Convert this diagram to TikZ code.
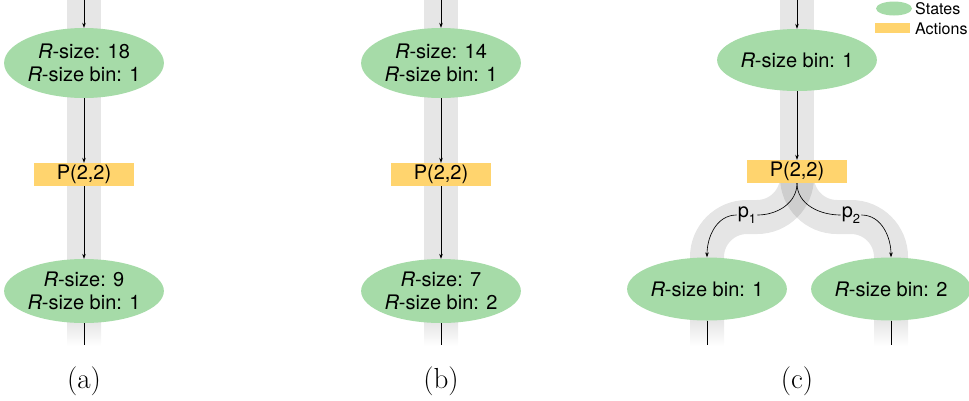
\documentclass[tikz,border=0pt]{standalone}
\usepackage{fontspec}
\newfontfamily\helv{TeX Gyre Heros}
\usetikzlibrary{arrows.meta,shapes.geometric}
\definecolor{stategreen}{RGB}{166,219,168}
\definecolor{actionorange}{RGB}{255,212,110}
\definecolor{bandgray}{RGB}{230,230,230}
\begin{document}
\begin{tikzpicture}[x=1pt,y=-1pt,
  state/.style={ellipse, fill=stategreen, minimum width=150pt, inner sep=0pt,
    align=center, font=\helv\fontsize{20}{23}\selectfont},
  action/.style={rectangle, fill=actionorange, minimum width=100pt,
    minimum height=23pt, inner sep=0pt, font=\helv\fontsize{20}{23}\selectfont},
  flow/.style={line width=0.65pt, -{Stealth[length=5pt,width=3.6pt]}},
  plainline/.style={line width=0.65pt},
  prob/.style={inner sep=1pt, font=\helv\fontsize{20}{23}\selectfont},
  caption/.style={font=\fontsize{29}{31}\selectfont},
  legendtext/.style={anchor=west, inner sep=0pt, font=\helv\fontsize{16}{18}\selectfont}]
\useasboundingbox (0,0) rectangle (969,400);

% straight vertical bands for panels (a) and (b)
\foreach \cx in {84,441}{
  \fill[bandgray] (\cx-17,0) rectangle (\cx+17,323);
  \shade[top color=bandgray,bottom color=white] (\cx-17,322.5) rectangle (\cx+17,346);
}

% panel (c): trunk and two translucent branches
\fill[bandgray] (780,0) rectangle (814,172);
\draw[line width=34pt, draw=black, draw opacity=0.1, rounded corners=40pt]
  (797,172) -- (797,217) -- (707,217) -- (707,305);
\draw[line width=34pt, draw=black, draw opacity=0.1, rounded corners=40pt]
  (797,172) -- (797,217) -- (891,217) -- (891,305);
\foreach \cx in {707,891}{
  \fill[bandgray] (\cx-17,305) rectangle (\cx+17,321);
  \shade[top color=bandgray,bottom color=white] (\cx-17,320.5) rectangle (\cx+17,346);
}

% panel (a)
\coordinate (a0) at (84,0);
\coordinate (a1) at (84,345);
\node[state, minimum height=70pt] (sa1) at (84,63) {\textit{R}-size: 18\\\textit{R}-size bin: 1};
\node[action] (pa) at (84,174.5) {P(2,2)};
\node[state, minimum height=64pt] (sa2) at (84,291) {\textit{R}-size: 9\\\textit{R}-size bin: 1};
\draw[flow] (a0) -- (sa1.north);
\draw[flow] (sa1.south) -- (pa.north);
\draw[flow] (pa.south) -- (sa2.north);
\draw[plainline] (sa2.south) -- (a1);
\node[caption] (capa) at (84,381) {(a)};

% panel (b)
\coordinate (b0) at (441,0);
\coordinate (b1) at (441,345);
\node[state, minimum height=70pt] (sb1) at (441,63) {\textit{R}-size: 14\\\textit{R}-size bin: 1};
\node[action] (pb) at (441,174.5) {P(2,2)};
\node[state, minimum height=64pt] (sb2) at (441,291) {\textit{R}-size: 7\\\textit{R}-size bin: 2};
\draw[flow] (b0) -- (sb1.north);
\draw[flow] (sb1.south) -- (pb.north);
\draw[flow] (pb.south) -- (sb2.north);
\draw[plainline] (sb2.south) -- (b1);
\node[caption] (capb) at (441,381) {(b)};

% panel (c)
\coordinate (c0) at (797,0);
\coordinate (cl) at (707,345);
\coordinate (cr) at (891,345);
\node[state, minimum height=62pt] (sc1) at (797,60) {\textit{R}-size bin: 1};
\node[action] (pc) at (797,171.5) {P(2,2)};
\node[state, minimum height=63pt] (sc2) at (707,289) {\textit{R}-size bin: 1};
\node[state, minimum height=63pt] (sc3) at (891,289) {\textit{R}-size bin: 2};
\node[prob] (p1) at (747,215) {p\raisebox{-6pt}{\fontsize{13}{13}\selectfont 1}};
\node[prob] (p2) at (851,215) {p\raisebox{-6pt}{\fontsize{13}{13}\selectfont 2}};
\draw[flow] (c0) -- (sc1.north);
\draw[flow] (sc1.south) -- (pc.north);
\draw[plainline] (pc.south) to[out=-90,in=0] (p1.east);
\draw[flow] (p1.west) to[out=180,in=90] (sc2.north);
\draw[plainline] (pc.south) to[out=-90,in=180] (p2.west);
\draw[flow] (p2.east) to[out=0,in=90] (sc3.north);
\draw[plainline] (sc2.south) -- (cl);
\draw[plainline] (sc3.south) -- (cr);
\node[caption] (capc) at (797,381) {(c)};

% legend
\node[ellipse, fill=stategreen, minimum width=36pt, minimum height=14pt, inner sep=0pt] (lgs) at (894,8.5) {};
\node[rectangle, fill=actionorange, minimum width=35pt, minimum height=10pt, inner sep=0pt] (lga) at (892.5,28) {};
\node[legendtext] (lgst) at (915,9) {States};
\node[legendtext] (lgat) at (915,28.5) {Actions};
\end{tikzpicture}
\end{document}
